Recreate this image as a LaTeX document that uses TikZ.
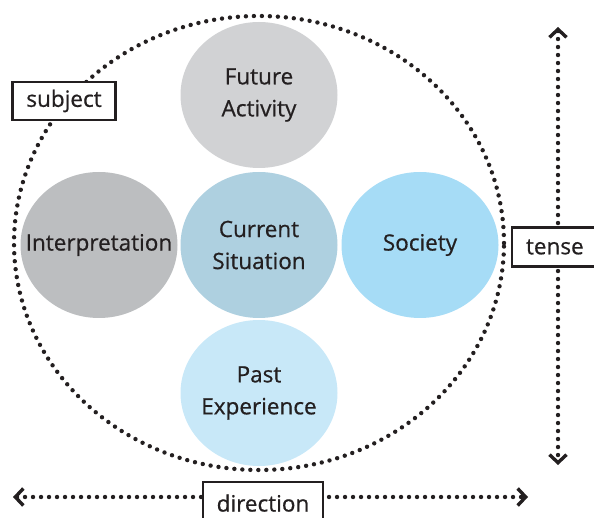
\documentclass[tikz,border=0pt]{standalone}
\usepackage{fontspec}
\setmainfont{Open Sans}[FakeBold=0.7]
\usepackage{xcolor}
\usetikzlibrary{arrows.meta,positioning,shapes.geometric}
\definecolor{futGray}{RGB}{209,210,212}
\definecolor{intGray}{RGB}{188,190,192}
\definecolor{curBlue}{RGB}{174,208,224}
\definecolor{socBlue}{RGB}{166,220,246}
\definecolor{pastBlue}{RGB}{200,232,248}
\definecolor{inkBlack}{RGB}{35,31,32}

\tikzset{
  bubble/.style={ellipse, minimum width=157pt, minimum height=146pt, inner sep=0pt},
  bubtext/.style={align=center, font=\fontsize{22.5}{32}\selectfont, text=inkBlack},
  tag/.style={draw=inkBlack, line width=2.2pt, fill=white, inner sep=0pt,
    font=\fontsize{22.5}{26}\selectfont, text=inkBlack},
  dots/.style={inkBlack, line width=4.4pt, line cap=round, dash pattern=on 0pt off 8pt},
  chev/.tip={Straight Barb[length=8pt,width=17pt,line width=3.4pt]},
  axis/.style={dots, chev-chev}
}

\begin{document}
\begin{tikzpicture}[x=1pt,y=-1pt]
    \useasboundingbox (0,0) rectangle (594,518);

    % outer dotted ring
    \node[ellipse, minimum width=490pt, minimum height=454pt, draw, dots] (ring) at (259,243) {};

    % the five bubbles
    \node[bubble, fill=curBlue, label={[bubtext]center:Current\\Situation}] (current) at (259,245) {};
    \node[bubble, fill=futGray, label={[bubtext]center:Future\\Activity}] (future) at (259,95) {};
    \node[bubble, fill=intGray, label={[bubtext]center:Interpretation}] (interp) at (99,245) {};
    \node[bubble, fill=socBlue, label={[bubtext]center:Society}] (society) at (420,245) {};
    \node[bubble, fill=pastBlue, label={[bubtext]center:Past\\Experience}] (past) at (259,393) {};

    % axes
    \coordinate (ttop) at (558,27);
    \coordinate (tbot) at (558,465);
    \coordinate (dleft) at (13,497);
    \coordinate (dright) at (528,497);
    \draw[axis] (ttop) -- (tbot);
    \draw[axis] (dleft) -- (dright);

    % labels
    \node[tag, minimum width=103pt, minimum height=38pt] (subject) at (64,101) {subject};
    \node[tag, minimum width=96pt, minimum height=39pt, text width=96pt, align=left] (tense) at (560,247) {\hspace*{14pt}tense};
    \node[tag, minimum width=120pt, minimum height=42pt, anchor=north] (direction) at (263,481) {direction};
\end{tikzpicture}
\end{document}
